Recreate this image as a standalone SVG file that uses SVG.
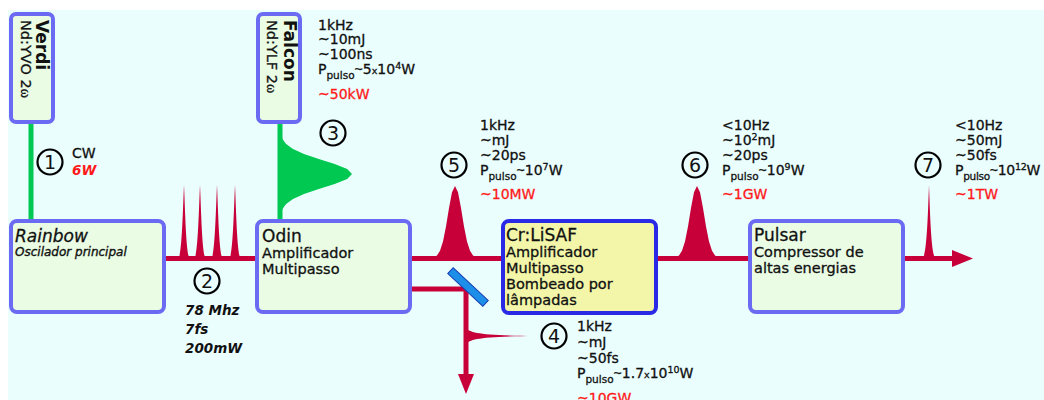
<svg xmlns="http://www.w3.org/2000/svg" width="1044" height="400" viewBox="0 0 1044 400">
<style>
text{font-family:"DejaVu Sans","Liberation Sans",sans-serif;fill:#111}
.box{fill:#EAFCE4;stroke:#6A6AF2;stroke-width:4}
.ybox{fill:#F3F6A8;stroke:#2A2AE6;stroke-width:4}
.t{font-size:14.5px;stroke:#111;stroke-width:0.3}
.d{font-size:14px;stroke:#111;stroke-width:0.3}
.ti{font-size:17px;stroke:#111;stroke-width:0.3}
.red{fill:#FF1A1A}
.d.red{stroke:#FF1A1A}
.sub{font-size:10.5px}
.sm{font-size:9.5px}
.tl{font-family:"Liberation Sans",sans-serif}
.circ{fill:none;stroke:#000;stroke-width:2.2}
.num{font-size:19px;text-anchor:middle}
.beam{stroke:#C8003A;stroke-width:5;fill:none}
.pulse{fill:#C8003A}
.it{font-style:italic;font-weight:bold;font-size:13.5px}
</style>
<rect x="0" y="0" width="1044" height="400" fill="#fff"/>
<rect x="8" y="10" width="1036" height="390" fill="#EAFEFE"/>

<g id="connectors">
  <line x1="31" y1="124" x2="31" y2="219" stroke="#00C850" stroke-width="5"/>
  <line x1="280" y1="124" x2="280" y2="219" stroke="#00C850" stroke-width="5"/>
  <polygon fill="#00C850" points="280,130 281,134 282.5,139 286.1,144 293,149 304,154 318.8,159 334.7,164 347.2,169 352,174 347.2,179 334.7,184 318.8,189 304,194 293,199 286.1,204 282.5,209 281,214 280,218"/>
  <line class="beam" x1="166" y1="258.5" x2="255" y2="258.5"/>
  <line class="beam" x1="412" y1="258.5" x2="501" y2="258.5"/>
  <line class="beam" x1="658" y1="258.5" x2="748" y2="258.5"/>
  <line class="beam" x1="905" y1="258.5" x2="955" y2="258.5"/>
  <polygon class="pulse" points="952,250 973,258.5 952,267"/>
  <line class="beam" x1="412" y1="289" x2="468.5" y2="289"/>
  <line class="beam" stroke-width="6" x1="466" y1="286" x2="466" y2="376"/>
  <polygon class="pulse" points="458,374 474,374 466,394"/>
  <path class="pulse" d="M466,328 C470,333 482,335.5 535,336 C482,336.5 470,339 466,344 Z"/>
  <rect x="444" y="283" width="48" height="8" fill="#1E8FE8" stroke="#1A3FB0" stroke-width="1" transform="rotate(43 468 287)"/>
  <path class="pulse" d="M178,259 C182,258 183,205 184,185 C185,205 186,258 190,259 Z"/>
  <path class="pulse" d="M194,259 C198,258 199,205 200,185 C201,205 202,258 206,259 Z"/>
  <path class="pulse" d="M211,259 C215,258 216,205 217,185 C218,205 219,258 223,259 Z"/>
  <path class="pulse" d="M229,259 C233,258 234,205 235,185 C236,205 237,258 241,259 Z"/>
  <polygon class="pulse" points="428,259 433,257.5 437,255.4 440,250.75 443,241.5 446,226.5 449,208.1 452,192.3 455,186 458,192.3 461,208.1 464,226.5 467,241.5 470,250.75 473,255.4 477,257.5 482,259"/>
  <polygon class="pulse" points="670,259 675,257.5 679,255.4 682,250.75 685,241.5 688,226.5 691,208.1 694,192.3 697,186 700,192.3 703,208.1 706,226.5 709,241.5 712,250.75 715,255.4 719,257.5 724,259"/>
  <path class="pulse" d="M922,259 C927,258 928,210 929,185 C930,210 931,258 936,259 Z"/>
</g>

<g id="verdi">
  <rect class="box" x="11" y="14" width="42" height="108" rx="5"/>
  <text transform="translate(36,20) rotate(90)" font-size="17" font-weight="bold">Verdi</text>
  <text transform="translate(21,20) rotate(90)" font-size="14.5" stroke="#111" stroke-width="0.3">Nd:YVO 2<tspan font-family="Liberation Serif,serif" font-size="14">ω</tspan></text>
</g>
<g id="falcon">
  <rect class="box" x="258" y="14" width="42" height="108" rx="5"/>
  <text transform="translate(284,20) rotate(90)" font-size="17" font-weight="bold">Falcon</text>
  <text transform="translate(267,20) rotate(90)" font-size="14.5" stroke="#111" stroke-width="0.3">Nd:YLF 2<tspan font-family="Liberation Serif,serif" font-size="14">ω</tspan></text>
</g>
<g id="rainbow">
  <rect class="box" x="11" y="221" width="153" height="91" rx="6"/>
  <text x="15" y="242" class="ti" font-style="italic">Rainbow</text>
  <text x="15" y="256" font-size="12" font-style="italic" stroke="#111" stroke-width="0.35">Oscilador principal</text>
</g>
<g id="odin">
  <rect class="box" x="257" y="221" width="153" height="91" rx="6"/>
  <text x="262" y="242" class="ti">Odin</text>
  <text x="262" y="258" class="t">Amplificador</text>
  <text x="262" y="274" class="t">Multipasso</text>
</g>
<g id="crlisaf">
  <rect class="ybox" x="503" y="221" width="153" height="92" rx="6"/>
  <text x="506" y="241" class="ti">Cr:LiSAF</text>
  <text x="506" y="257" class="t">Amplificador</text>
  <text x="506" y="273" class="t">Multipasso</text>
  <text x="506" y="289" class="t">Bombeado por</text>
  <text x="506" y="305" class="t">lâmpadas</text>
</g>
<g id="pulsar">
  <rect class="box" x="750" y="221" width="153" height="91" rx="6"/>
  <text x="754" y="241" class="ti">Pulsar</text>
  <text x="754" y="257" class="t">Compressor de</text>
  <text x="754" y="273" class="t">altas energias</text>
</g>

<g id="label1">
  <circle class="circ" cx="50" cy="162" r="12.5"/>
  <text x="50" y="169" class="num">1</text>
  <text x="72" y="158" class="d" font-size="13.5">CW</text>
  <text x="72" y="175" class="red it">6W</text>
</g>
<g id="label2">
  <circle class="circ" cx="207" cy="281" r="12.5"/>
  <text x="207" y="288" class="num">2</text>
  <text x="185" y="315" class="it">78 Mhz</text>
  <text x="185" y="334" class="it">7fs</text>
  <text x="185" y="353" class="it">200mW</text>
</g>
<g id="label3">
  <circle class="circ" cx="333" cy="133" r="12.5"/>
  <text x="333" y="140" class="num">3</text>
  <text x="318" y="30" class="d">1kHz</text>
  <text x="318" y="44" class="d">~10mJ</text>
  <text x="318" y="59" class="d">~100ns</text>
  <text x="318" y="74" class="d">P<tspan class="sub" dy="5">pulso</tspan><tspan class="tl" dy="-5">~</tspan>5<tspan class="sm">x</tspan>10<tspan class="sm" dy="-5">4</tspan><tspan dy="5">W</tspan></text>
  <text x="318" y="99" class="d red">~50kW</text>
</g>
<g id="label5">
  <circle class="circ" cx="454" cy="165" r="12.5"/>
  <text x="454" y="172" class="num">5</text>
  <text x="480" y="130" class="d">1kHz</text>
  <text x="480" y="145" class="d">~mJ</text>
  <text x="480" y="160" class="d">~20ps</text>
  <text x="480" y="175" class="d">P<tspan class="sub" dy="5">pulso</tspan><tspan class="tl" dy="-5">~</tspan>10<tspan class="sm" dy="-5">7</tspan><tspan dy="5">W</tspan></text>
  <text x="480" y="199" class="d red">~10MW</text>
</g>
<g id="label6">
  <circle class="circ" cx="695" cy="165" r="12.5"/>
  <text x="695" y="172" class="num">6</text>
  <text x="722" y="130" class="d">&lt;10Hz</text>
  <text x="722" y="145" class="d">~10<tspan class="sm" dy="-5">2</tspan><tspan dy="5">mJ</tspan></text>
  <text x="722" y="160" class="d">~20ps</text>
  <text x="722" y="175" class="d">P<tspan class="sub" dy="5">pulso</tspan><tspan class="tl" dy="-5">~</tspan>10<tspan class="sm" dy="-5">9</tspan><tspan dy="5">W</tspan></text>
  <text x="722" y="199" class="d red">~1GW</text>
</g>
<g id="label7">
  <circle class="circ" cx="928" cy="165" r="12.5"/>
  <text x="928" y="172" class="num">7</text>
  <text x="955" y="130" class="d">&lt;10Hz</text>
  <text x="955" y="145" class="d">~50mJ</text>
  <text x="955" y="160" class="d">~50fs</text>
  <text x="955" y="175" class="d" letter-spacing="-0.3">P<tspan class="sub" dy="5">pulso</tspan><tspan class="tl" dy="-5">~</tspan>10<tspan class="sm" dy="-5">12</tspan><tspan dy="5">W</tspan></text>
  <text x="955" y="199" class="d red">~1TW</text>
</g>
<g id="label4">
  <circle class="circ" cx="554" cy="336" r="12.5"/>
  <text x="554" y="343" class="num">4</text>
  <text x="577" y="331" class="d">1kHz</text>
  <text x="577" y="347" class="d">~mJ</text>
  <text x="577" y="363" class="d">~50fs</text>
  <text x="577" y="378" class="d">P<tspan class="sub" dy="5">pulso</tspan><tspan class="tl" dy="-5">~</tspan>1.7<tspan class="sm">x</tspan>10<tspan class="sm" dy="-5">10</tspan><tspan dy="5">W</tspan></text>
  <text x="577" y="403" class="d red">~10GW</text>
</g>
</svg>
